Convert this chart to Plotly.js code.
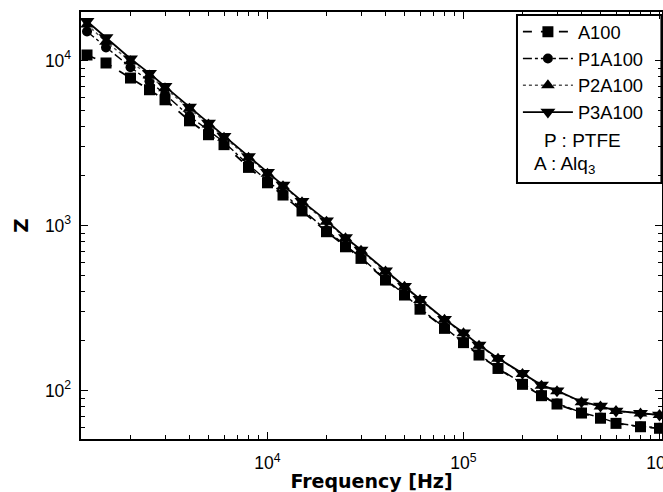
<!DOCTYPE html>
<html>
<head>
<meta charset="utf-8">
<script src="https://cdn.plot.ly/plotly-3.0.1.min.js"></script>
<style>
  html, body { margin: 0; padding: 0; background: #fff; }
  #chart { width: 663px; height: 492px; }
</style>
</head>
<body>
<div id="chart"></div>
<script>
// Frequency in Hz
const freq = [1200, 1500, 2000, 2500, 3000, 4000, 5000, 6000, 8000,
  10000, 12000, 15000, 20000, 25000, 30000, 40000, 50000, 60000, 80000,
  100000, 120000, 150000, 200000, 250000, 300000, 400000, 500000, 600000, 800000, 1000000];

// Impedance Z for each sample
const zA100 = [10800, 9660, 7830, 6650, 5780, 4310, 3550, 3090, 2250,
  1815, 1530, 1225, 917, 743, 632, 467, 379, 311, 238,
  195, 164, 136, 109, 93, 82.8, 73, 67.9, 63.2, 60.3, 59];
const zP1A100 = [15000, 12000, 9100, 7480, 6250, 4600, 3750, 3200, 2330,
  1870, 1570, 1255, 935, 755, 640, 472, 383, 314, 240,
  196, 165, 137, 110, 94, 83.5, 73.5, 68.5, 63.5, 60.5, 59.5];
const zP2A100 = [16500, 13000, 9900, 8100, 6800, 5100, 4100, 3400, 2570,
  2060, 1730, 1385, 1055, 838, 704, 527, 425, 354, 268,
  222, 187, 156, 126, 107, 99, 85, 80, 75, 72.5, 71];
const zP3A100 = [17300, 13800, 10250, 8360, 6980, 5220, 4180, 3470, 2620,
  2100, 1760, 1405, 1070, 847, 711, 532, 429, 357, 270,
  224, 189, 157, 127, 108, 99.8, 85.5, 80.5, 75.2, 72.8, 71.1];

const seriesNames = ['A100', 'P1A100', 'P2A100', 'P3A100'];
const noteLines = ['P : PTFE', 'A : Alq<sub>3</sub>'];

const traces = [
  {x: freq, y: zA100, name: seriesNames[0], mode: 'lines+markers',
   line: {color: '#000', width: 1.8, dash: 'dash'},
   marker: {symbol: 'square', size: 11, color: '#000'}},
  {x: freq, y: zP1A100, name: seriesNames[1], mode: 'lines+markers',
   line: {color: '#000', width: 1.4, dash: 'dashdot'},
   marker: {symbol: 'circle', size: 10, color: '#000'}},
  {x: freq, y: zP2A100, name: seriesNames[2], mode: 'lines+markers',
   line: {color: '#555', width: 1.4, dash: 'dot'},
   marker: {symbol: 'triangle-up', size: 12, color: '#000'}},
  {x: freq, y: zP3A100, name: seriesNames[3], mode: 'lines+markers',
   line: {color: '#000', width: 1.8, dash: 'solid'},
   marker: {symbol: 'triangle-down', size: 13, color: '#000'}}
];

const fnt = 'Liberation Sans, Arial, sans-serif';
const bfnt = 'DejaVu Sans, sans-serif';

const layout = {
  width: 663, height: 492,
  margin: {l: 81, r: 1, t: 12, b: 53},
  paper_bgcolor: '#fff', plot_bgcolor: '#fff',
  font: {family: fnt, color: '#000'},
  showlegend: true,
  legend: {
    x: 0.752, y: 0.997, xanchor: 'left', yanchor: 'top',
    bgcolor: 'rgba(0,0,0,0)', borderwidth: 0,
    font: {family: fnt, size: 18.3, color: '#000'},
    itemwidth: 50
  },
  xaxis: {
    type: 'log', range: [3.0485, 6.0128],
    showgrid: false, zeroline: false,
    showline: true, linecolor: '#000', linewidth: 2, mirror: 'allticks',
    ticks: 'inside', ticklen: 7, tickwidth: 1.5, tickcolor: '#000',
    dtick: 1, exponentformat: 'power', ticklabeloverflow: 'allow',
    ticklabelstandoff: 8,
    tickfont: {family: fnt, size: 14, color: '#000'},
    minor: {ticks: 'inside', ticklen: 4, tickwidth: 1, tickcolor: '#000', showgrid: false},
    title: {text: '<b>Frequency [Hz]</b>', font: {family: bfnt, size: 19, color: '#000'}, standoff: 5}
  },
  yaxis: {
    type: 'log', range: [1.706, 4.294],
    showgrid: false, zeroline: false,
    showline: true, linecolor: '#000', linewidth: 2, mirror: 'allticks',
    ticks: 'inside', ticklen: 7, tickwidth: 1.5, tickcolor: '#000',
    dtick: 1, exponentformat: 'power', ticklabelstandoff: 5,
    tickfont: {family: fnt, size: 14, color: '#000'},
    minor: {ticks: 'inside', ticklen: 4, tickwidth: 1, tickcolor: '#000', showgrid: false},
    title: {text: '<b>Z</b>', font: {family: bfnt, size: 20, color: '#000'}, standoff: 11}
  },
  shapes: [{
    type: 'rect', xref: 'paper', yref: 'paper',
    x0: 0.7504, x1: 0.999, y0: 0.5995, y1: 0.993,
    line: {color: '#000', width: 2}, fillcolor: 'rgba(0,0,0,0)'
  }],
  annotations: [
    {xref: 'paper', yref: 'paper', x: 0.793, y: 0.700, xanchor: 'left', yanchor: 'middle',
     text: noteLines[0], showarrow: false, font: {family: fnt, size: 19, color: '#000'}},
    {xref: 'paper', yref: 'paper', x: 0.777, y: 0.6417, xanchor: 'left', yanchor: 'middle',
     text: noteLines[1], showarrow: false, font: {family: fnt, size: 19, color: '#000'}}
  ]
};

Plotly.newPlot('chart', traces, layout, {displayModeBar: false, staticPlot: true});
</script>
</body>
</html>
